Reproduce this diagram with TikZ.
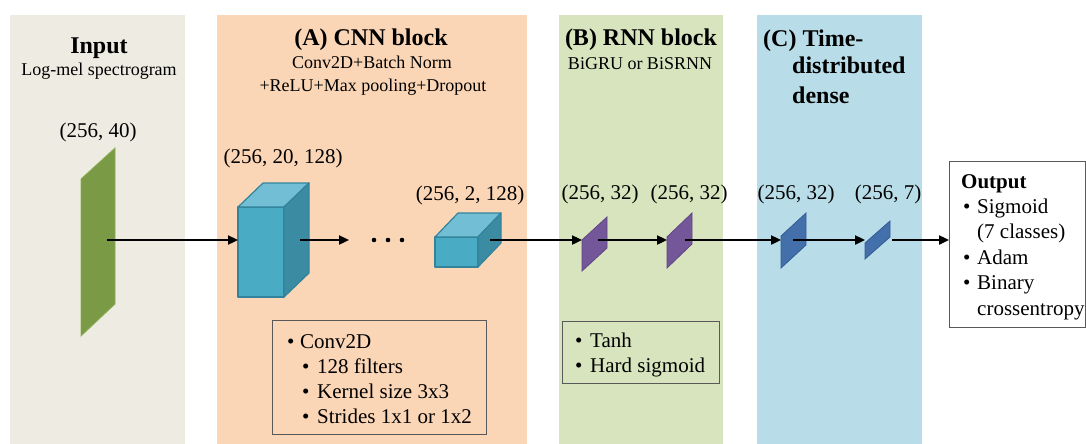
\documentclass[tikz,border=0pt]{standalone}
\usepackage{fontspec}
\setmainfont{Liberation Serif}
\usetikzlibrary{arrows.meta}
\definecolor{inbg}{HTML}{EDEBE2}
\definecolor{cnnbg}{HTML}{FBD6B6}
\definecolor{rnnbg}{HTML}{D8E4BE}
\definecolor{tdbg}{HTML}{B8DDE8}
\definecolor{ingreen}{HTML}{7A9A46}
\definecolor{ingreenl}{HTML}{8DAE55}
\definecolor{cubefront}{HTML}{4AABC5}
\definecolor{cubetop}{HTML}{72BED5}
\definecolor{cubeside}{HTML}{3B8BA2}
\definecolor{cubeline}{HTML}{31849B}
\definecolor{purp}{HTML}{745799}
\definecolor{purpl}{HTML}{5F4585}
\definecolor{bluel}{HTML}{4370AA}
\definecolor{bluelo}{HTML}{345C94}
\definecolor{boxline}{HTML}{595959}
\begin{document}
\begin{tikzpicture}[x=1pt,y=-1pt,
  titletext/.style={font=\fontsize{24}{28}\selectfont\bfseries, anchor=base, inner sep=0pt},
  subtext/.style={font=\fontsize{18}{21}\selectfont, anchor=base, inner sep=0pt},
  dimtext/.style={font=\fontsize{21}{24}\selectfont, anchor=base, inner sep=0pt},
  itemtext/.style={font=\fontsize{21}{24}\selectfont, anchor=base west, inner sep=0pt},
  flow/.style={line width=2.3pt, -{Triangle[length=10pt,width=9pt]}},
  infobox/.style={draw=boxline, line width=1pt},
  cubeface/.style={draw=cubeline, line width=1.2pt, line join=round}]
\useasboundingbox (0,0) rectangle (1086,444);
% panels
\fill[inbg] (10,15) rectangle (185,444);
\fill[cnnbg] (217,15) rectangle (527,444);
\fill[rnnbg] (559,15) rectangle (723,444);
\fill[tdbg] (757,15) rectangle (922,444);
% titles
\node[titletext] (tin) at (99,53) {Input};
\node[subtext] (tins) at (99,75) {Log-mel spectrogram};
\node[dimtext] (din) at (98,137) {(256, 40)};
\node[titletext] (tcnn) at (371,46) {(A) CNN block};
\node[subtext] (tcnn1) at (372,69) {Conv2D+Batch Norm};
\node[subtext] (tcnn2) at (373,91) {+ReLU+Max pooling+Dropout};
\node[dimtext] (dc1) at (283,163) {(256, 20, 128)};
\node[dimtext] (dc2) at (470,200) {(256, 2, 128)};
\node[titletext] (trnn) at (641,46) {(B) RNN block};
\node[subtext] (trnns) at (640,70) {BiGRU or BiSRNN};
\node[dimtext] (dr1) at (600,199) {(256, 32)};
\node[dimtext] (dr2) at (689,199) {(256, 32)};
\node[titletext, anchor=base west] (ttd1) at (763,47) {(C) Time-};
\node[titletext, anchor=base west] (ttd2) at (792,74) {distributed};
\node[titletext, anchor=base west] (ttd3) at (792,103) {dense};
\node[dimtext] (dt1) at (796,199) {(256, 32)};
\node[dimtext] (dt2) at (888,199) {(256, 7)};
% input slab
\filldraw[fill=ingreen, draw=ingreenl, line width=0.8pt] (81,179) -- (115,148) -- (115,304) -- (81,336) -- cycle;
% cube 1
\filldraw[cubeface, fill=cubefront] (238,207) rectangle (284,297);
\filldraw[cubeface, fill=cubetop] (238,207) -- (263,183) -- (309,183) -- (284,207) -- cycle;
\filldraw[cubeface, fill=cubeside] (284,207) -- (309,183) -- (309,273) -- (284,297) -- cycle;
% cube 2
\filldraw[cubeface, fill=cubefront] (435,237) rectangle (478,267);
\filldraw[cubeface, fill=cubetop] (435,237) -- (458,213) -- (501,213) -- (478,237) -- cycle;
\filldraw[cubeface, fill=cubeside] (478,237) -- (501,213) -- (501,243) -- (478,267) -- cycle;
% dots
\foreach \dx in {374,388,402} \fill[black] (\dx,240) circle (2.3);
% RNN slabs
\filldraw[fill=purp, draw=purpl, line width=0.8pt] (582,240) -- (607,217) -- (607,248) -- (582,271) -- cycle;
\filldraw[fill=purp, draw=purpl, line width=0.8pt] (667,237) -- (692,213) -- (692,244) -- (667,268) -- cycle;
% dense slabs
\filldraw[fill=bluel, draw=bluelo, line width=0.8pt] (781,236) -- (806,213) -- (806,245) -- (781,268) -- cycle;
\filldraw[fill=bluel, draw=bluelo, line width=0.8pt] (865,243) -- (890,221) -- (890,237) -- (865,259) -- cycle;
% connector points
\coordinate (inS) at (107,240);
\coordinate (c1W) at (238,240);
\coordinate (c1S) at (300,240);
\coordinate (dotsW) at (349,240);
\coordinate (c2S) at (490,240);
\coordinate (p1W) at (582,240);
\coordinate (p1S) at (598,240);
\coordinate (p2W) at (667,240);
\coordinate (p2S) at (685,240);
\coordinate (b1W) at (781,240);
\coordinate (b1S) at (793,240);
\coordinate (b2W) at (865,240);
\coordinate (b2S) at (892,240);
% output box
\node[infobox, anchor=north west, minimum width=136pt, minimum height=166pt, inner sep=0pt] (out) at (949,161) {};
\node[font=\fontsize{21}{24}\selectfont\bfseries, anchor=base west, inner sep=0pt] (outt) at (961,188) {Output};
\node[itemtext] (ob1) at (963,213) {•};
\node[itemtext] (oi1) at (977,213) {Sigmoid};
\node[itemtext] (oi1b) at (977,238) {(7 classes)};
\node[itemtext] (ob2) at (963,264) {•};
\node[itemtext] (oi2) at (977,264) {Adam};
\node[itemtext] (ob3) at (963,289) {•};
\node[itemtext] (oi3) at (977,289) {Binary};
\node[itemtext] (oi3b) at (977,315) {crossentropy};
% CNN box
\draw[infobox] (272,320) rectangle (486,434);
\node[itemtext] (cb1) at (287,348) {•};
\node[itemtext] (ci1) at (300,348) {Conv2D};
\node[itemtext] (cb2) at (302,373) {•};
\node[itemtext] (ci2) at (317,373) {128 filters};
\node[itemtext] (cb3) at (302,398) {•};
\node[itemtext] (ci3) at (317,398) {Kernel size 3x3};
\node[itemtext] (cb4) at (302,423) {•};
\node[itemtext] (ci4) at (317,423) {Strides 1x1 or 1x2};
% RNN box
\draw[infobox] (562,321) rectangle (719,383);
\node[itemtext] (rb1) at (575,347) {•};
\node[itemtext] (ri1) at (590,347) {Tanh};
\node[itemtext] (rb2) at (575,372) {•};
\node[itemtext] (ri2) at (590,372) {Hard sigmoid};
% connectors
\draw[flow] (inS) -- (c1W);
\draw[flow] (c1S) -- (dotsW);
\draw[flow] (c2S) -- (p1W);
\draw[flow] (p1S) -- (p2W);
\draw[flow] (p2S) -- (b1W);
\draw[flow] (b1S) -- (b2W);
\draw[flow] (b2S) -- (b2S -| out.west);
\end{tikzpicture}
\end{document}
